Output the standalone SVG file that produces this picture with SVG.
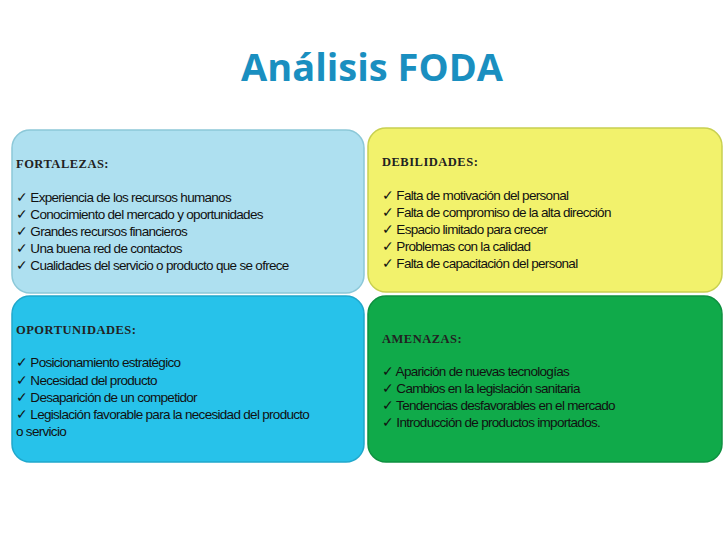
<svg xmlns="http://www.w3.org/2000/svg" width="728" height="546" viewBox="0 0 728 546">
<style>
.box{stroke-width:1.5}
.h{font-family:"Liberation Serif",serif;font-weight:bold;font-size:12.5px;fill:#222;letter-spacing:0.5px}
.t{font-family:"Liberation Sans",Arial,sans-serif;font-size:13.5px;fill:#111;letter-spacing:-0.7px}
</style>
<rect width="728" height="546" fill="#fff"/>
<text x="372" y="81" text-anchor="middle" font-family="Open Sans,Liberation Sans,sans-serif" font-weight="bold" font-size="38" fill="#1a8fc0">Análisis  FODA</text>
<g id="fortalezas">
<rect class="box" x="12" y="130" width="352" height="163" rx="18" fill="#aee0f0" stroke="#8cc8d8"/>
<text class="h" x="16" y="168">FORTALEZAS:</text>
<text class="t" x="16" y="202">✓ Experiencia de los recursos humanos</text>
<text class="t" x="16" y="219">✓ Conocimiento del mercado y oportunidades</text>
<text class="t" x="16" y="236">✓ Grandes recursos financieros</text>
<text class="t" x="16" y="253">✓ Una buena red de contactos</text>
<text class="t" x="16" y="270">✓ Cualidades del servicio o producto que se ofrece</text>
</g>
<g id="debilidades">
<rect class="box" x="368" y="128" width="354" height="164" rx="18" fill="#f2f26c" stroke="#c8d050"/>
<text class="h" x="382" y="166">DEBILIDADES:</text>
<text class="t" x="382" y="200">✓ Falta de motivación del personal</text>
<text class="t" x="382" y="217">✓ Falta de compromiso de la  alta dirección</text>
<text class="t" x="382" y="234">✓ Espacio limitado para crecer</text>
<text class="t" x="382" y="251">✓ Problemas con la calidad</text>
<text class="t" x="382" y="268">✓ Falta de capacitación del personal</text>
</g>
<g id="oportunidades">
<rect class="box" x="12" y="296" width="352" height="166" rx="18" fill="#27c2ea" stroke="#20a8cc"/>
<text class="h" x="16" y="334">OPORTUNIDADES:</text>
<text class="t" x="16" y="367">✓ Posicionamiento estratégico</text>
<text class="t" x="16" y="385">✓ Necesidad del producto</text>
<text class="t" x="16" y="402">✓ Desaparición de un competidor</text>
<text class="t" x="16" y="419">✓ Legislación favorable para la necesidad del  producto</text>
<text class="t" x="16" y="436">o servicio</text>
</g>
<g id="amenazas">
<rect class="box" x="368" y="296" width="354" height="166" rx="18" fill="#10aa4a" stroke="#0e9040"/>
<text class="h" x="382" y="343">AMENAZAS:</text>
<text class="t" x="382" y="376">✓ Aparición de nuevas  tecnologías</text>
<text class="t" x="382" y="393">✓ Cambios en la legislación sanitaria</text>
<text class="t" x="382" y="410">✓ Tendencias desfavorables en el  mercado</text>
<text class="t" x="382" y="427">✓ Introducción de productos importados.</text>
</g>
<g id="connectors"/>
</svg>
